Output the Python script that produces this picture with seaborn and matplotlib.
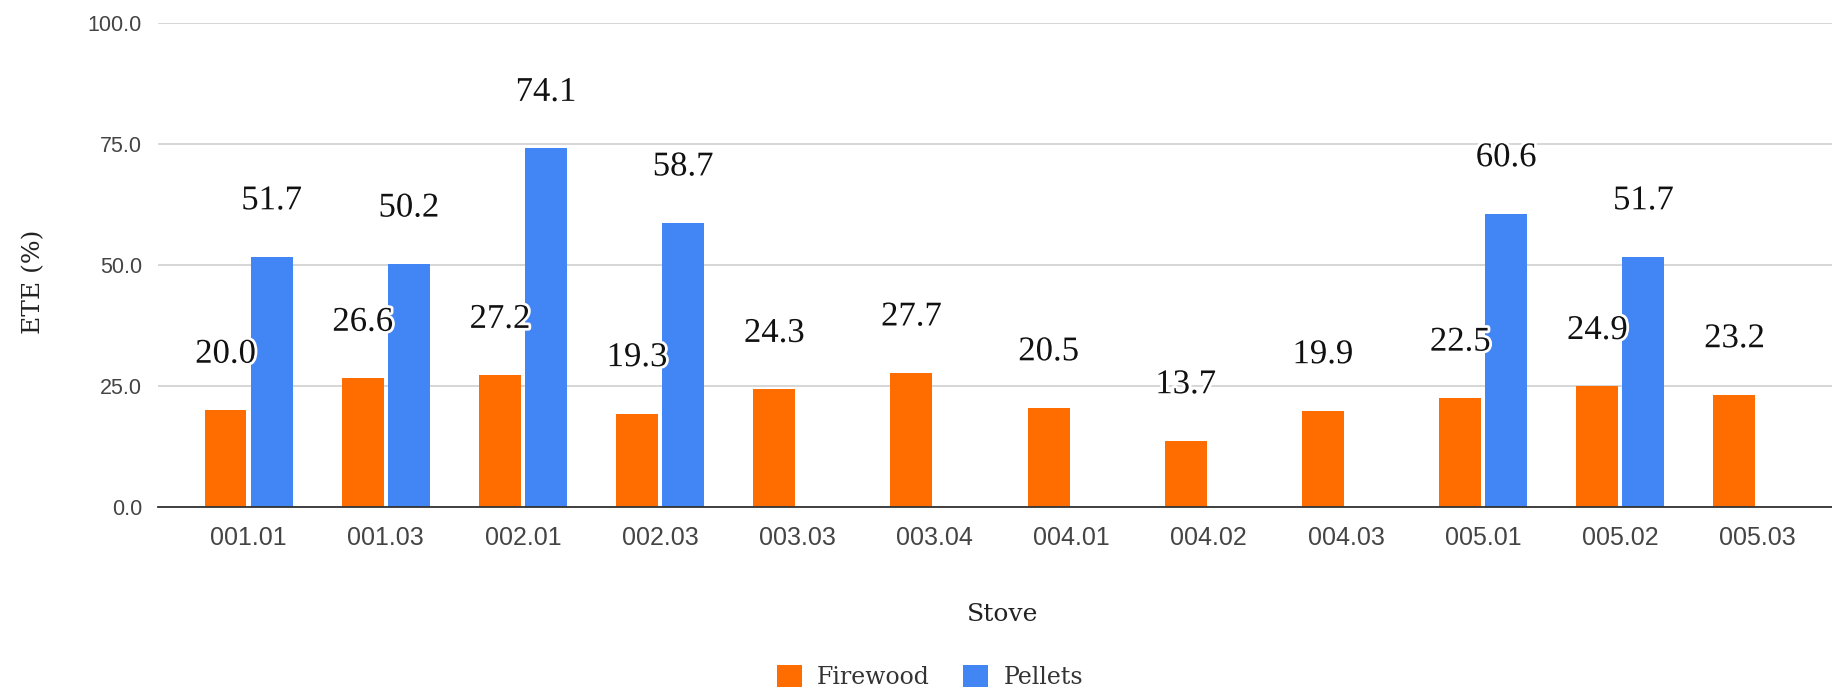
import numpy as np
import pandas as pd
import matplotlib
matplotlib.use("Agg")
import matplotlib.pyplot as plt
import matplotlib.patheffects as pe
import seaborn as sns

# Thermal efficiency per stove and fuel
stoves = ["001.01", "001.03", "002.01", "002.03", "003.03", "003.04",
          "004.01", "004.02", "004.03", "005.01", "005.02", "005.03"]
firewood = [20.0, 26.6, 27.2, 19.3, 24.3, 27.7, 20.5, 13.7, 19.9, 22.5, 24.9, 23.2]
pellets = [51.7, 50.2, 74.1, 58.7, np.nan, np.nan, np.nan, np.nan, np.nan,
           60.6, 51.7, np.nan]
fuels = ["Firewood", "Pellets"]
colors = ["#FF6D01", "#4285F4"]
y_ticks = [0, 25, 50, 75, 100]

df = pd.DataFrame({
    "Stove": stoves * 2,
    "ETE": firewood + pellets,
    "Fuel": [fuels[0]] * len(stoves) + [fuels[1]] * len(stoves),
}).dropna()

sns.set_theme(style="white")
tick_font = ["Liberation Sans", "DejaVu Sans"]
serif_font = ["DejaVu Serif"]
value_font = ["Liberation Serif", "DejaVu Serif"]

W, H = 1832, 691
fig = plt.figure(figsize=(W / 100, H / 100), dpi=100)
ax = fig.add_axes([158 / W, 184 / H, 1690 / W, 484 / H])

sns.barplot(data=df, x="Stove", y="ETE", hue="Fuel", order=stoves,
            hue_order=fuels, palette=colors, width=0.672, gap=0.09,
            errorbar=None, saturation=1, linewidth=0, ax=ax, zorder=2)

# value labels above each bar
for container in ax.containers:
    for bar in container:
        h = bar.get_height()
        if np.isnan(h):
            continue
        ax.annotate(f"{h:.1f}", (bar.get_x() + bar.get_width() / 2, h),
                    xytext=(0, 40.3), textcoords="offset points",
                    ha="center", va="center", fontsize=25,
                    family=value_font, color="#111111", zorder=5,
                    path_effects=[pe.withStroke(linewidth=4, foreground="white")])

ax.set_ylim(0, 100)
ax.set_xlim(-0.66, len(stoves) - 1 + 0.66)
ax.set_yticks(y_ticks)
ax.set_yticklabels([f"{v:.1f}" for v in y_ticks])
ax.tick_params(axis="both", length=0)
ax.tick_params(axis="y", pad=11.5)
ax.tick_params(axis="x", pad=13.5)
for lbl in ax.get_yticklabels():
    lbl.set_fontfamily(tick_font)
    lbl.set_fontsize(15.5)
    lbl.set_color("#444444")
for lbl in ax.get_xticklabels():
    lbl.set_fontfamily(tick_font)
    lbl.set_fontsize(18)
    lbl.set_color("#444444")

ax.yaxis.grid(True, color="#d0d0d0", linewidth=1.2)
ax.xaxis.grid(False)
ax.set_axisbelow(True)
for side in ["top", "right", "left"]:
    ax.spines[side].set_visible(False)
ax.spines["bottom"].set_color("#333333")
ax.spines["bottom"].set_linewidth(1.3)
ax.spines["bottom"].set_zorder(3)

ax.set_ylabel("ETE (%)", family=serif_font, fontsize=18, color="#222222")
ax.yaxis.set_label_coords(-0.067, 0.465)
ax.set_xlabel("Stove", family=serif_font, fontsize=18, color="#222222")
ax.xaxis.set_label_coords(0.5, -0.198)

sns.move_legend(ax, "center", bbox_to_anchor=(930 / W, 14 / H),
                bbox_transform=fig.transFigure, ncol=2, frameon=False,
                title=None, prop={"family": serif_font, "size": 17},
                handlelength=1.06, handleheight=1.06, handletextpad=0.64,
                columnspacing=1.4, labelcolor="#333333")

fig.savefig("out.png", dpi=100)
